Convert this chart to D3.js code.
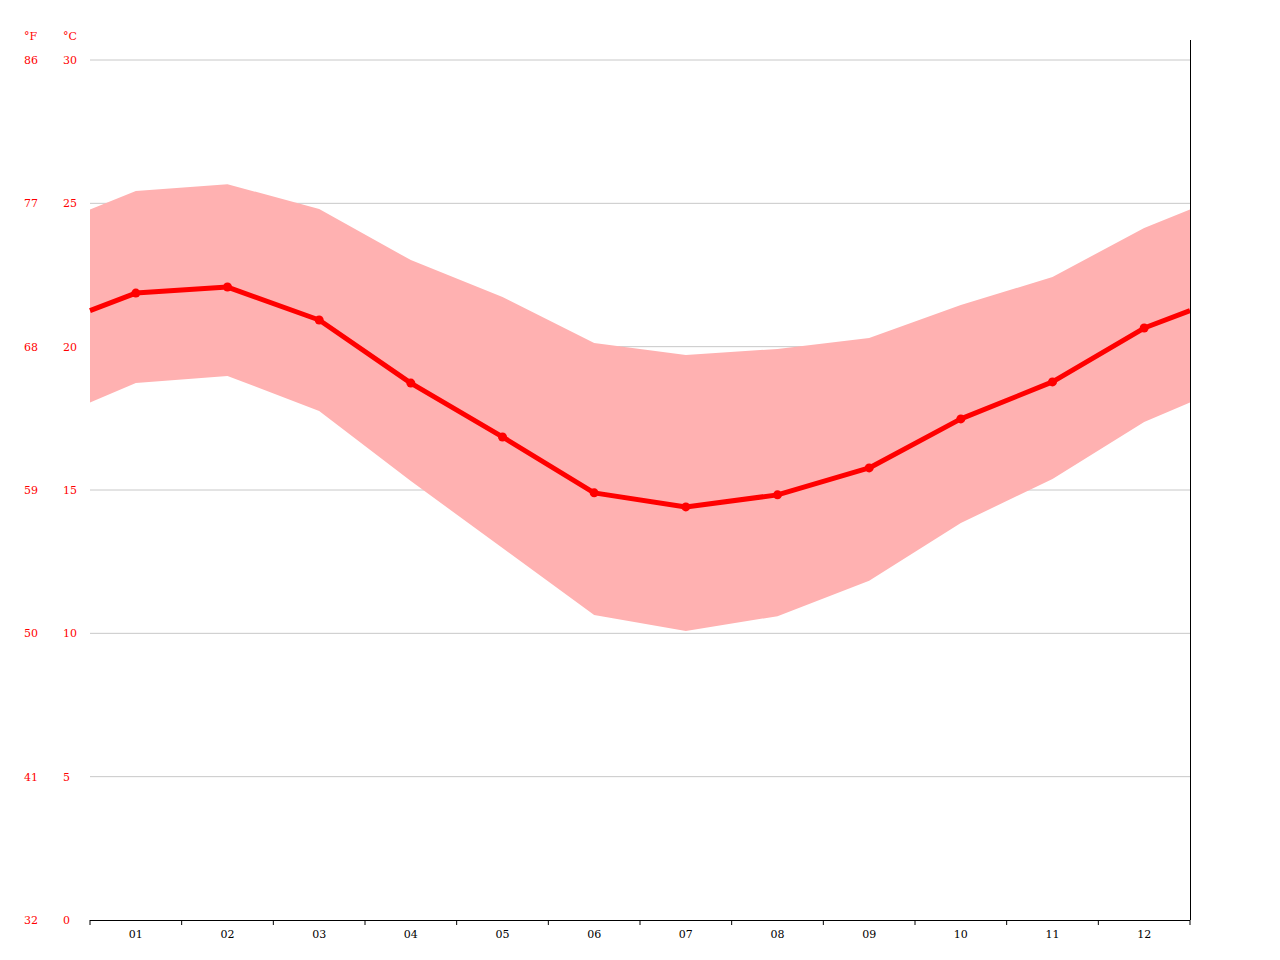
<!DOCTYPE html><html><head><meta charset="utf-8">
<script src="https://d3js.org/d3.v7.min.js"></script>
<style>body{margin:0;background:#fff}svg text{font-family:"DejaVu Serif",serif;font-size:11px}</style></head><body>
<svg id="c" width="1280" height="960"></svg>
<script>
const months=["01","02","03","04","05","06","07","08","09","10","11","12"];
const meanT=[21.87,22.08,20.93,18.73,16.85,14.90,14.41,14.83,15.77,17.48,18.77,20.65];
const highT=[25.43,25.67,24.80,23.02,21.73,20.13,19.71,19.92,20.30,21.45,22.43,24.14];
const lowT=[18.73,18.98,17.76,15.31,12.98,10.64,10.08,10.60,11.83,13.85,15.38,17.37];
const cTicks=[0,5,10,15,20,25,30];
const fTicks=["32","41","50","59","68","77","86"];

const svg=d3.select("#c");
const L=90,R=1190;
const x=d3.scaleBand().domain(months).range([L,R]);
const y=d3.scaleLinear().domain([0,30]).range([920,60]);
const cx=i=>x(months[i])+x.bandwidth()/2;
const edge=a=>(a[0]+a[11])/2;
function pts(a){const p=[[L,edge(a)]];a.forEach((v,i)=>p.push([cx(i),v]));p.push([R,edge(a)]);return p;}

svg.append("g").selectAll("line").data(cTicks.filter(d=>d>0)).join("line")
 .attr("x1",L).attr("x2",R).attr("y1",d=>y(d)).attr("y2",d=>y(d)).attr("stroke","#c8c8c8");

const hp=pts(highT),lp=pts(lowT);
const band=hp.map((p,i)=>({x:p[0],hi:p[1],lo:lp[i][1]}));
svg.append("path").datum(band).attr("fill","#ffb1b1")
 .attr("d",d3.area().x(d=>d.x).y0(d=>y(d.lo)).y1(d=>y(d.hi)));

svg.append("path").datum(pts(meanT)).attr("fill","none").attr("stroke","#ff0000").attr("stroke-width",5)
 .attr("stroke-linejoin","round").attr("d",d3.line().x(d=>d[0]).y(d=>y(d[1])));
svg.append("g").selectAll("circle").data(meanT).join("circle")
 .attr("cx",(d,i)=>cx(i)).attr("cy",d=>y(d)).attr("r",4.5).attr("fill","#ff0000");

svg.append("g").selectAll("text").data(cTicks).join("text")
 .attr("x",63).attr("y",d=>y(d)+4).attr("fill","#ff0000").text(d=>d);
svg.append("g").selectAll("text").data(fTicks).join("text")
 .attr("x",24).attr("y",(d,i)=>y(cTicks[i])+4).attr("fill","#ff0000").text(d=>d);
svg.append("text").attr("x",24).attr("y",40).attr("fill","#ff0000").text("°F");
svg.append("text").attr("x",63).attr("y",40).attr("fill","#ff0000").text("°C");

const ax=svg.append("g").attr("transform","translate(0,920)")
 .call(d3.axisBottom(x).tickSize(0).tickPadding(10));
ax.select(".domain").remove();
ax.selectAll("text").attr("fill","#000").style("font-family","DejaVu Serif").style("font-size","11px");
svg.append("line").attr("x1",L).attr("x2",R).attr("y1",920.5).attr("y2",920.5).attr("stroke","#000");
const bounds=months.map(m=>x(m)).concat([R]);
svg.append("g").selectAll("line").data(bounds).join("line")
 .attr("x1",d=>d).attr("x2",d=>d).attr("y1",920).attr("y2",925).attr("stroke","#000");
svg.append("line").attr("x1",R+0.5).attr("x2",R+0.5).attr("y1",40).attr("y2",920).attr("stroke","#000");
</script></body></html>
